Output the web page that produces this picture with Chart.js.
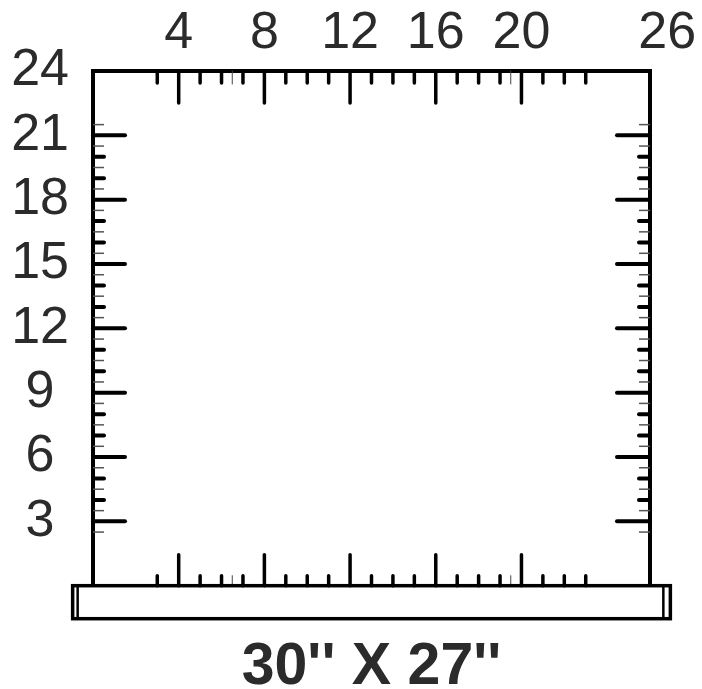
<!DOCTYPE html>
<html>
<head>
<meta charset="utf-8">
<script src="https://cdn.jsdelivr.net/npm/chart.js@4.4.1/dist/chart.umd.min.js"></script>
<style>
	html, body { margin: 0; padding: 0; background: #fff; }
	#wrap { width: 702px; height: 689px; }
</style>
</head>
<body>
<div id="wrap"><canvas id="myChart"></canvas></div>
<script>
// Medidas del cajón (en pulgadas de la regla)
const drawerWidth = 26;
const drawerDepth = 24;
const sizeLabel = "30'' X 27''";

// Etiquetas de las reglas
const xTickLabels = [4, 8, 12, 16, 20, 26];
const yTickLabels = [3, 6, 9, 12, 15, 18, 21, 24];

// Marcas de la regla horizontal (arriba y abajo)
const xLongTicks = [4, 8, 12, 16, 20];
const xShortTicks = [3, 5, 6, 7, 9, 10, 11, 13, 14, 15, 17, 18, 19, 21, 22, 23];
const xHalfTicks = [6.5, 19.5];

// Marcas de la regla vertical (izquierda y derecha)
const yLongTicks = [3, 6, 9, 12, 15, 18, 21];
const yShortTicks = [4, 5, 7, 8, 10, 11, 13, 14, 16, 17, 19, 20];
const yHalfTicks = [2.5, 3.5, 4.5, 5.5, 6.5, 7.5, 8.5, 9.5, 10.5, 11.5, 12.5,
	13.5, 14.5, 15.5, 16.5, 17.5, 18.5, 19.5, 20.5, 21.5];

const textColor = '#2b2b2b';
const lastLabelNudge = 0.8; // el "26" está desplazado a la derecha del borde

function line(ctx, x1, y1, x2, y2, width, color) {
	ctx.beginPath();
	ctx.lineWidth = width;
	ctx.strokeStyle = color;
	ctx.moveTo(x1, y1);
	ctx.lineTo(x2, y2);
	ctx.stroke();
}

const rulerPlugin = {
	id: 'ruler',
	afterDatasetsDraw(chart) {
		const { ctx, scales: { x, y } } = chart;
		const left = x.getPixelForValue(0);
		const right = x.getPixelForValue(drawerWidth);
		const top = y.getPixelForValue(drawerDepth);
		const bottom = y.getPixelForValue(0);

		ctx.save();
		ctx.lineCap = 'round';

		// regla horizontal
		xLongTicks.forEach((v) => {
			const px = x.getPixelForValue(v);
			line(ctx, px, top, px, top + 32, 3.5, '#000');
			line(ctx, px, bottom, px, bottom - 31, 3.5, '#000');
		});
		xShortTicks.forEach((v) => {
			const px = x.getPixelForValue(v);
			line(ctx, px, top, px, top + 12, 3.5, '#000');
			line(ctx, px, bottom, px, bottom - 10, 3.5, '#000');
		});
		xHalfTicks.forEach((v) => {
			const px = x.getPixelForValue(v);
			line(ctx, px, top, px, top + 13, 1, '#444');
			line(ctx, px, bottom, px, bottom - 10, 1, '#444');
		});

		// regla vertical
		yLongTicks.forEach((v) => {
			const py = y.getPixelForValue(v);
			line(ctx, left, py, left + 32, py, 4, '#000');
			line(ctx, right, py, right - 33, py, 4, '#000');
		});
		yShortTicks.forEach((v) => {
			const py = y.getPixelForValue(v);
			line(ctx, left, py, left + 11, py, 4, '#000');
			line(ctx, right, py, right - 11, py, 4, '#000');
		});
		ctx.lineCap = 'butt';
		yHalfTicks.forEach((v) => {
			const py = y.getPixelForValue(v);
			line(ctx, left, py, left + 11, py, 1.5, '#555');
			line(ctx, right, py, right - 11, py, 1.5, '#555');
		});

		// frente del cajón
		const pl = x.getPixelForValue(-0.95);
		const pr = x.getPixelForValue(drawerWidth + 0.95);
		const pb = bottom + 33;
		ctx.lineWidth = 3.5;
		ctx.strokeStyle = '#000';
		ctx.strokeRect(pl, bottom, pr - pl, pb - bottom);
		line(ctx, pl + 5, bottom, pl + 5, pb, 2.5, '#000');
		line(ctx, pr - 7, bottom, pr - 7, pb, 2.5, '#000');
		ctx.restore();
	},
};

const ctx = document.getElementById('myChart').getContext('2d');
new Chart(ctx, {
	type: 'scatter',
	data: {
		datasets: [
			{
				data: [
					{ x: 0, y: 0 },
					{ x: 0, y: drawerDepth },
					{ x: drawerWidth, y: drawerDepth },
					{ x: drawerWidth, y: 0 },
				],
				showLine: true,
				borderColor: '#000',
				borderWidth: 4,
				borderJoinStyle: 'miter',
				pointRadius: 0,
				fill: false,
				clip: false,
			},
		],
	},
	options: {
		responsive: true,
		maintainAspectRatio: false,
		animation: false,
		layout: { padding: { left: 0, top: 0, right: 52, bottom: 0 } },
		scales: {
			x: {
				type: 'linear',
				position: 'top',
				min: 0,
				max: drawerWidth,
				afterBuildTicks: (scale) => {
					scale.ticks = xTickLabels.map((v) => ({
						value: v === drawerWidth ? v + lastLabelNudge : v,
					}));
				},
				afterFit: (scale) => {
					scale.height = 71;
				},
				ticks: {
					autoSkip: false,
					maxRotation: 0,
					padding: 6,
					color: textColor,
					font: { family: '"Liberation Sans", Arial, sans-serif', size: 52 },
					callback: (val, i) => String(xTickLabels[i]),
				},
				grid: { display: false, drawTicks: false },
				border: { display: false },
			},
			y: {
				type: 'linear',
				min: 0,
				max: drawerDepth,
				afterBuildTicks: (scale) => {
					scale.ticks = yTickLabels.map((v) => ({ value: v }));
				},
				afterFit: (scale) => {
					scale.width = 93;
				},
				ticks: {
					autoSkip: false,
					padding: 24,
					crossAlign: 'center',
					color: textColor,
					font: { family: '"Liberation Sans", Arial, sans-serif', size: 52 },
					callback: (val) => String(val),
				},
				grid: { display: false, drawTicks: false },
				border: { display: false },
			},
		},
		plugins: {
			legend: { display: false },
			tooltip: { enabled: false },
			title: {
				display: true,
				position: 'bottom',
				fullSize: false,
				text: sizeLabel,
				color: textColor,
				font: { family: '"Liberation Sans", Arial, sans-serif', size: 59, weight: 'bold', lineHeight: 0.7 },
				padding: { top: 61, bottom: 1 },
			},
		},
	},
	plugins: [rulerPlugin],
});
</script>
</body>
</html>
